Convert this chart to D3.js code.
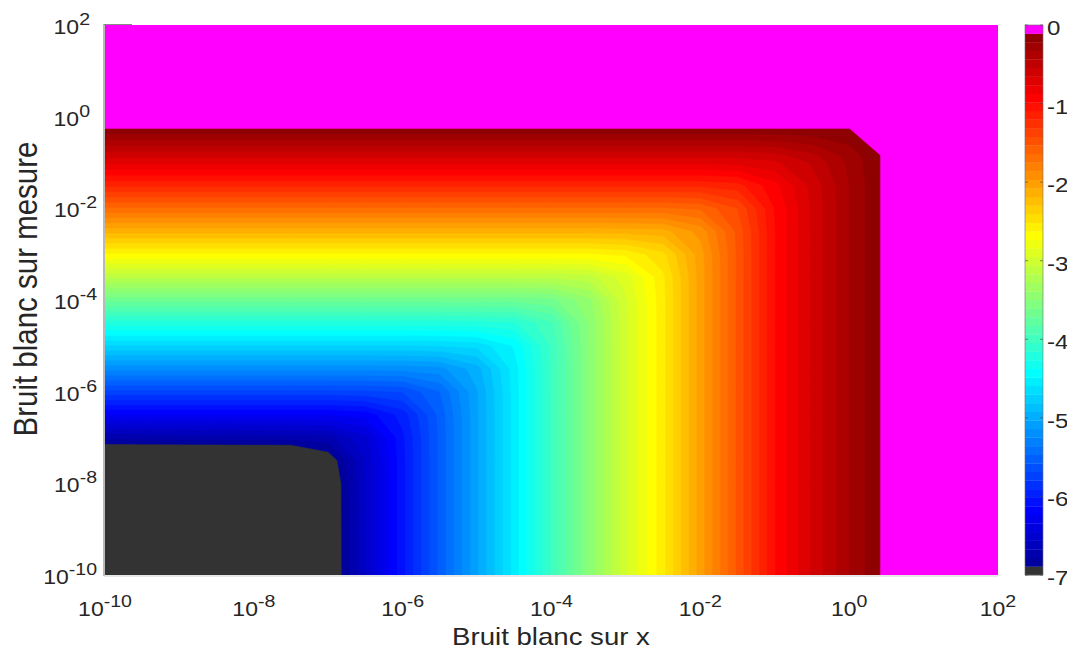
<!DOCTYPE html>
<html><head><meta charset="utf-8">
<script src="https://cdn.jsdelivr.net/npm/d3@7"></script>
<style>body{margin:0;background:#fff}svg{display:block}</style>
</head><body>
<svg id="chart" width="1067" height="652"></svg>
<script>
// grid exponents (log10 of noise levels)
const xExp = [-10, -7.5, -7, -6.5, -6, -5.5, -5, -4.5, -4, -3.5, -3, -2.5, -2, -1.5, -1, -0.5, 0, 0.42, 0.45, 2];
const yExp = [-10, -8, -7.5, -7, -6.5, -6, -5.5, -5, -4.5, -4, -3.5, -3, -2.5, -2, -1.5, -1, -0.84, -0.26, -0.22, 2];
// log10 error, one row per yExp (bottom to top), one value per xExp; 0.5 = divergence (magenta)
const zRows = [
  [-9.69,-7.58,-7.08,-6.56,-6.05,-5.55,-5.05,-4.55,-4.03,-3.50,-2.98,-2.55,-2.03,-1.51,-0.99,-0.64,-0.33,-0.115,0.5,0.5],
  [-7.75,-7.50,-7.07,-6.56,-6.05,-5.55,-5.05,-4.55,-4.03,-3.50,-2.98,-2.55,-2.03,-1.51,-0.99,-0.64,-0.33,-0.115,0.5,0.5],
  [-7.25,-7.21,-7.00,-6.55,-6.05,-5.55,-5.05,-4.55,-4.03,-3.50,-2.98,-2.55,-2.03,-1.51,-0.99,-0.64,-0.33,-0.115,0.5,0.5],
  [-6.75,-6.74,-6.71,-6.48,-6.04,-5.55,-5.05,-4.55,-4.03,-3.50,-2.98,-2.55,-2.03,-1.51,-0.99,-0.64,-0.33,-0.115,0.5,0.5],
  [-6.23,-6.23,-6.23,-6.19,-5.97,-5.54,-5.05,-4.55,-4.03,-3.50,-2.98,-2.55,-2.03,-1.51,-0.99,-0.64,-0.33,-0.115,0.5,0.5],
  [-5.72,-5.72,-5.72,-5.71,-5.68,-5.47,-5.04,-4.55,-4.03,-3.50,-2.98,-2.55,-2.03,-1.51,-0.99,-0.64,-0.33,-0.115,0.5,0.5],
  [-5.22,-5.22,-5.22,-5.22,-5.21,-5.18,-4.97,-4.54,-4.03,-3.50,-2.98,-2.55,-2.03,-1.51,-0.99,-0.64,-0.33,-0.115,0.5,0.5],
  [-4.71,-4.71,-4.71,-4.71,-4.71,-4.70,-4.67,-4.47,-4.02,-3.50,-2.98,-2.55,-2.03,-1.51,-0.99,-0.64,-0.33,-0.115,0.5,0.5],
  [-4.21,-4.21,-4.21,-4.21,-4.21,-4.21,-4.20,-4.17,-3.95,-3.49,-2.98,-2.55,-2.03,-1.51,-0.99,-0.64,-0.33,-0.115,0.5,0.5],
  [-3.68,-3.68,-3.68,-3.68,-3.68,-3.68,-3.68,-3.68,-3.64,-3.42,-2.97,-2.55,-2.03,-1.51,-0.99,-0.64,-0.33,-0.115,0.5,0.5],
  [-3.15,-3.15,-3.15,-3.15,-3.15,-3.15,-3.15,-3.15,-3.15,-3.11,-2.90,-2.54,-2.03,-1.51,-0.99,-0.64,-0.33,-0.115,0.5,0.5],
  [-2.64,-2.64,-2.64,-2.64,-2.64,-2.64,-2.64,-2.64,-2.64,-2.64,-2.60,-2.44,-2.02,-1.51,-0.99,-0.64,-0.33,-0.115,0.5,0.5],
  [-2.15,-2.15,-2.15,-2.15,-2.15,-2.15,-2.15,-2.15,-2.15,-2.15,-2.14,-2.12,-1.93,-1.50,-0.99,-0.64,-0.33,-0.115,0.5,0.5],
  [-1.66,-1.66,-1.66,-1.66,-1.66,-1.66,-1.66,-1.66,-1.66,-1.66,-1.66,-1.66,-1.62,-1.42,-0.98,-0.64,-0.33,-0.115,0.5,0.5],
  [-1.18,-1.18,-1.18,-1.18,-1.18,-1.18,-1.18,-1.18,-1.18,-1.18,-1.18,-1.18,-1.18,-1.14,-0.91,-0.62,-0.33,-0.115,0.5,0.5],
  [-0.74,-0.74,-0.74,-0.74,-0.74,-0.74,-0.74,-0.74,-0.74,-0.74,-0.74,-0.74,-0.74,-0.73,-0.68,-0.53,-0.30,-0.115,0.5,0.5],
  [-0.61,-0.61,-0.61,-0.61,-0.61,-0.61,-0.61,-0.61,-0.61,-0.61,-0.61,-0.61,-0.61,-0.61,-0.58,-0.47,-0.28,-0.11,0.5,0.5],
  [-0.12,-0.12,-0.12,-0.12,-0.12,-0.12,-0.12,-0.12,-0.12,-0.12,-0.12,-0.12,-0.12,-0.12,-0.12,-0.12,-0.12,0.5,0.5,0.5],
  [0.5,0.5,0.5,0.5,0.5,0.5,0.5,0.5,0.5,0.5,0.5,0.5,0.5,0.5,0.5,0.5,0.5,0.5,0.5,0.5],
  [0.5,0.5,0.5,0.5,0.5,0.5,0.5,0.5,0.5,0.5,0.5,0.5,0.5,0.5,0.5,0.5,0.5,0.5,0.5,0.5]
];
const xTickExp = [-10, -8, -6, -4, -2, 0, 2];
const yTickExp = [-10, -8, -6, -4, -2, 0, 2];
const cTicks = [0, -1, -2, -3, -4, -5, -6, -7];
const cLimits = [-7, 0];
const nColors = 64;
const xTitle = "Bruit blanc sur x";
const yTitle = "Bruit blanc sur mesure";

// MATLAB-style jet colormap
function jetMap(m) {
  const n = Math.ceil(m / 4), u = [];
  for (let i = 1; i <= n; i++) u.push(i / n);
  for (let i = 1; i < n; i++) u.push(1);
  for (let i = n; i >= 1; i--) u.push(i / n);
  const g0 = Math.ceil(n / 2) - (m % 4 === 1 ? 1 : 0);
  const out = Array.from({length: m}, () => [0, 0, 0]);
  u.forEach((val, k) => {
    const g = g0 + k + 1, r = g + n, b = g - n;
    if (r >= 1 && r <= m) out[r - 1][0] = val;
    if (g >= 1 && g <= m) out[g - 1][1] = val;
    if (b >= 1 && b <= m) out[b - 1][2] = val;
  });
  return out.map(c => d3.rgb(c[0] * 255, c[1] * 255, c[2] * 255).formatHex());
}
const cmap = jetMap(nColors);
cmap[0] = "#333333";
cmap[nColors - 1] = "#ff00ff";

const svg = d3.select("#chart");
const L = 105, R = 998, T = 25, B = 575;
const xScale = d3.scaleLog().domain([1e-10, 1e2]).range([L, R]);
const yScale = d3.scaleLog().domain([1e-10, 1e2]).range([B, T]);
const step = (cLimits[1] - cLimits[0]) / nColors;
const thresholds = d3.range(1, nColors).map(k => cLimits[0] + k * step);

const nx = xExp.length, ny = yExp.length;
const values = zRows.flat();
const contours = d3.contours().size([nx, ny]).thresholds(thresholds)(values);

function interp(arr, c) {
  let s = Math.max(0, Math.min(arr.length - 1, c - 0.5));
  const i = Math.min(Math.floor(s), arr.length - 2);
  const f = s - i;
  return arr[i] + f * (arr[i + 1] - arr[i]);
}
const proj = d3.geoTransform({
  point(x, y) {
    this.stream.point(xScale(Math.pow(10, interp(xExp, x))), yScale(Math.pow(10, interp(yExp, y))));
  }
});
const path = d3.geoPath(proj);

svg.append("clipPath").attr("id", "plotclip").append("rect")
  .attr("x", L).attr("y", T).attr("width", R - L).attr("height", B - T);
const plot = svg.append("g").attr("clip-path", "url(#plotclip)");
plot.append("rect").attr("x", L).attr("y", T).attr("width", R - L).attr("height", B - T).attr("fill", cmap[0]);
plot.selectAll("path.band").data(contours).join("path")
  .attr("class", "band")
  .attr("d", path)
  .attr("fill", (d, i) => cmap[i + 1])
  .attr("stroke", (d, i) => cmap[i + 1])
  .attr("stroke-width", 0.4);

// axis lines
svg.append("line").attr("x1", L - 1).attr("x2", L - 1).attr("y1", T - 1).attr("y2", B + 1)
  .attr("stroke", "#8a8a8a").attr("stroke-width", 1.2);
svg.append("line").attr("x1", L - 1).attr("x2", R).attr("y1", B + 1).attr("y2", B + 1)
  .attr("stroke", "#d0d0d0").attr("stroke-width", 1);
svg.append("line").attr("x1", L - 1).attr("x2", L + 27).attr("y1", T - 0.5).attr("y2", T - 0.5)
  .attr("stroke", "#8a8a8a").attr("stroke-width", 1);

const SX = 1.15;
const FONT = "'Liberation Sans', Arial, Helvetica, sans-serif";
const TXT = "#262626";
function powLabel(x, y, e, anchor) {
  const g = svg.append("g").attr("transform", `translate(${x},${y}) scale(${SX},1)`);
  const t = g.append("text").attr("text-anchor", anchor).attr("font-family", FONT)
    .attr("fill", TXT).attr("font-size", 20);
  t.append("tspan").text("10");
  t.append("tspan").attr("font-size", 17).attr("dy", -9).text(String(e));
}
xTickExp.forEach(e => powLabel(xScale(Math.pow(10, e)), 616, e, "middle"));
yTickExp.forEach(e => powLabel(97 - (e >= 0 ? 7 : 0), yScale(Math.pow(10, e)) + 9, e, "end"));

// axis titles
svg.append("g").attr("transform", `translate(551,645) scale(${SX},1)`)
  .append("text").attr("text-anchor", "middle").attr("font-family", FONT).attr("font-size", 24)
  .attr("fill", TXT).text(xTitle);
svg.append("g").attr("transform", `translate(37,289) scale(${SX},1) rotate(-90)`)
  .append("text").attr("text-anchor", "middle").attr("font-family", FONT).attr("font-size", 29.5)
  .attr("fill", TXT).text(yTitle);

// colorbar
const CBL = 1025, CBW = 18;
const cScale = d3.scaleLinear().domain(cLimits).range([B, T]);
const cb = svg.append("g");
cb.selectAll("rect").data(d3.range(nColors)).join("rect")
  .attr("x", CBL).attr("width", CBW)
  .attr("y", k => cScale(cLimits[0] + (k + 1) * step))
  .attr("height", k => cScale(cLimits[0] + k * step) - cScale(cLimits[0] + (k + 1) * step) + 0.3)
  .attr("fill", k => cmap[k]);
cb.append("rect").attr("x", CBL).attr("y", T).attr("width", CBW).attr("height", B - T)
  .attr("fill", "none").attr("stroke", "#6e6e6e").attr("stroke-width", 0.6);
cTicks.forEach(v => {
  const y = cScale(v);
  cb.append("line").attr("x1", CBL).attr("x2", CBL + 3).attr("y1", y).attr("y2", y).attr("stroke", "#444").attr("stroke-width", 0.6);
  cb.append("line").attr("x1", CBL + CBW - 3).attr("x2", CBL + CBW).attr("y1", y).attr("y2", y).attr("stroke", "#444").attr("stroke-width", 0.6);
  svg.append("g").attr("transform", `translate(${CBL + CBW + 4},${y + 10}) scale(${SX},1)`)
    .append("text").attr("font-family", FONT).attr("font-size", 21).attr("fill", TXT).text(String(v));
});
</script>
</body></html>
